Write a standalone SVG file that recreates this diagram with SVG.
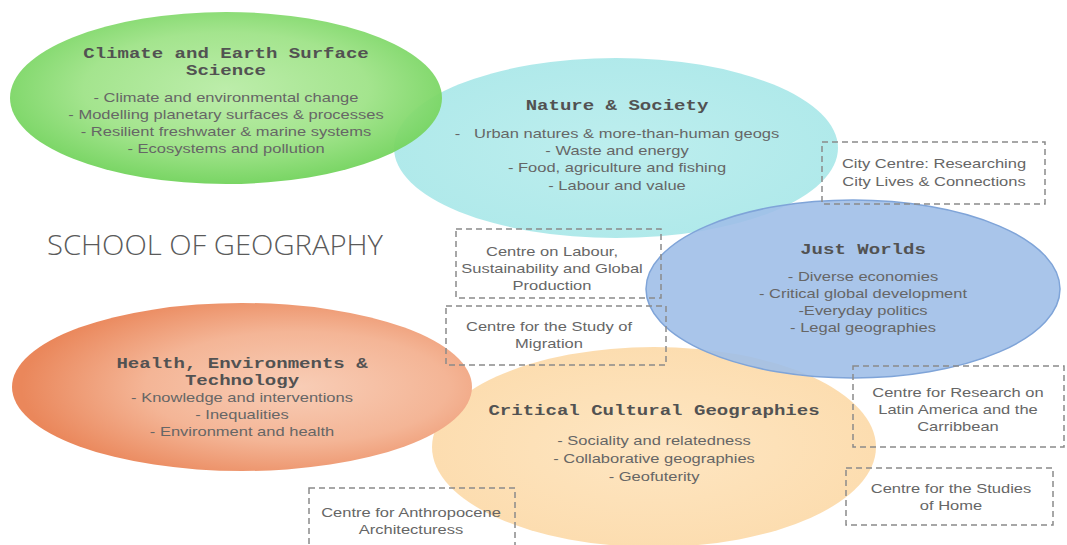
<svg xmlns="http://www.w3.org/2000/svg" width="1067" height="545" viewBox="0 0 1067 545">
  <defs>
    <radialGradient id="gGreen" cx="0.5" cy="0.45" r="0.55">
      <stop offset="0" stop-color="#b9eca6"/>
      <stop offset="0.6" stop-color="#9fe388"/>
      <stop offset="1" stop-color="#72d35c"/>
    </radialGradient>
    <radialGradient id="gCyan" cx="0.5" cy="0.5" r="0.55">
      <stop offset="0" stop-color="#bdeeee"/>
      <stop offset="1" stop-color="#afe9ea"/>
    </radialGradient>
    <radialGradient id="gOrange" cx="0.62" cy="0.5" r="0.6">
      <stop offset="0" stop-color="#f8cdb6"/>
      <stop offset="0.55" stop-color="#f4b596"/>
      <stop offset="1" stop-color="#ea875b"/>
    </radialGradient>
    <radialGradient id="gPeach" cx="0.5" cy="0.5" r="0.55">
      <stop offset="0" stop-color="#fee6c2"/>
      <stop offset="1" stop-color="#fcdcae"/>
    </radialGradient>
    <style>
      .title { font-family: "Liberation Mono", "Courier New", monospace; font-weight: bold; font-size: 15px; fill: #525252; text-anchor: middle; }
      .body { font-family: "Liberation Sans", Arial, sans-serif; font-size: 13px; fill: #666666; text-anchor: middle; white-space: pre; }
      .box { fill: none; stroke: #8a8a8a; stroke-width: 1.5; stroke-dasharray: 6 4; }
      .head { font-family: "Open Sans", "Liberation Sans", sans-serif; font-weight: 300; font-size: 27px; fill: #5a5a5a; }
    </style>
  </defs>

  <rect width="1067" height="545" fill="#ffffff"/>

  <!-- research themes -->
  <g id="nature-society-shape">
    <ellipse cx="616" cy="148" rx="222" ry="90" fill="url(#gCyan)"/>
  </g>
  <g id="climate-shape">
    <ellipse cx="226" cy="98" rx="216" ry="86" fill="url(#gGreen)" opacity="0.95"/>
  </g>
  <g id="critical-cultural-shape">
    <ellipse cx="654" cy="447" rx="222" ry="100" fill="url(#gPeach)"/>
  </g>
  <g id="health-shape">
    <ellipse cx="242" cy="387" rx="230" ry="84" fill="url(#gOrange)"/>
  </g>
  <g id="just-worlds-shape">
    <ellipse cx="853" cy="289" rx="207" ry="89" fill="#a0bfe8" fill-opacity="0.9" stroke="#7fa4d8" stroke-width="1.5"/>
  </g>

  <!-- research centres -->
  <g id="connectors">
    <rect class="box" x="822" y="142" width="223" height="62"/>
    <rect class="box" x="456" y="229" width="205" height="69"/>
    <rect class="box" x="446" y="306" width="220" height="59"/>
    <rect class="box" x="853" y="366" width="211" height="81"/>
    <rect class="box" x="846" y="468" width="207" height="57"/>
    <rect class="box" x="309" y="488" width="206" height="62"/>
  </g>

  <!-- heading -->
  <g id="heading">
    <text class="head" x="47" y="255" textLength="336" lengthAdjust="spacingAndGlyphs">SCHOOL OF GEOGRAPHY</text>
  </g>

  <!-- theme labels -->
  <g id="climate" transform="translate(226 0) scale(1.27 1)">
    <text class="title" x="0" y="58">Climate and Earth Surface</text>
    <text class="title" x="0" y="75">Science</text>
    <text class="body" x="0" y="102">- Climate and environmental change</text>
    <text class="body" x="0" y="119">- Modelling planetary surfaces &amp; processes</text>
    <text class="body" x="0" y="136">- Resilient freshwater &amp; marine systems</text>
    <text class="body" x="0" y="153">- Ecosystems and pollution</text>
  </g>

  <g id="nature-society" transform="translate(617 0) scale(1.27 1)">
    <text class="title" x="0" y="110">Nature &amp; Society</text>
    <text class="body" x="0" y="138">-   Urban natures &amp; more-than-human geogs</text>
    <text class="body" x="0" y="155">- Waste and energy</text>
    <text class="body" x="0" y="172">- Food, agriculture and fishing</text>
    <text class="body" x="0" y="190">- Labour and value</text>
  </g>

  <g id="just-worlds" transform="translate(863 0) scale(1.27 1)">
    <text class="title" x="0" y="254">Just Worlds</text>
    <text class="body" x="0" y="281">- Diverse economies</text>
    <text class="body" x="0" y="298">- Critical global development</text>
    <text class="body" x="0" y="315">-Everyday politics</text>
    <text class="body" x="0" y="332">- Legal geographies</text>
  </g>

  <g id="health" transform="translate(242 0) scale(1.27 1)">
    <text class="title" x="0" y="368">Health, Environments &amp;</text>
    <text class="title" x="0" y="385">Technology</text>
    <text class="body" x="0" y="402">- Knowledge and interventions</text>
    <text class="body" x="0" y="419">- Inequalities</text>
    <text class="body" x="0" y="436">- Environment and health</text>
  </g>

  <g id="critical-cultural" transform="translate(654 0) scale(1.27 1)">
    <text class="title" x="0" y="415">Critical Cultural Geographies</text>
    <text class="body" x="0" y="445">- Sociality and relatedness</text>
    <text class="body" x="0" y="463">- Collaborative geographies</text>
    <text class="body" x="0" y="481">- Geofuterity</text>
  </g>

  <!-- centre labels -->
  <g id="city-centre" transform="translate(934 0) scale(1.27 1)">
    <text class="body" x="0" y="168">City Centre: Researching</text>
    <text class="body" x="0" y="186">City Lives &amp; Connections</text>
  </g>

  <g id="labour-centre" transform="translate(552 0) scale(1.27 1)">
    <text class="body" x="0" y="256">Centre on Labour,</text>
    <text class="body" x="0" y="273">Sustainability and Global</text>
    <text class="body" x="0" y="290">Production</text>
  </g>

  <g id="migration-centre" transform="translate(549 0) scale(1.27 1)">
    <text class="body" x="0" y="331">Centre for the Study of</text>
    <text class="body" x="0" y="348">Migration</text>
  </g>

  <g id="latin-america-centre" transform="translate(958 0) scale(1.27 1)">
    <text class="body" x="0" y="397">Centre for Research on</text>
    <text class="body" x="0" y="414">Latin America and the</text>
    <text class="body" x="0" y="431">Carribbean</text>
  </g>

  <g id="home-centre" transform="translate(951 0) scale(1.27 1)">
    <text class="body" x="0" y="493">Centre for the Studies</text>
    <text class="body" x="0" y="510">of Home</text>
  </g>

  <g id="anthropocene-centre" transform="translate(411 0) scale(1.27 1)">
    <text class="body" x="0" y="517">Centre for Anthropocene</text>
    <text class="body" x="0" y="534">Architecturess</text>
  </g>
</svg>
